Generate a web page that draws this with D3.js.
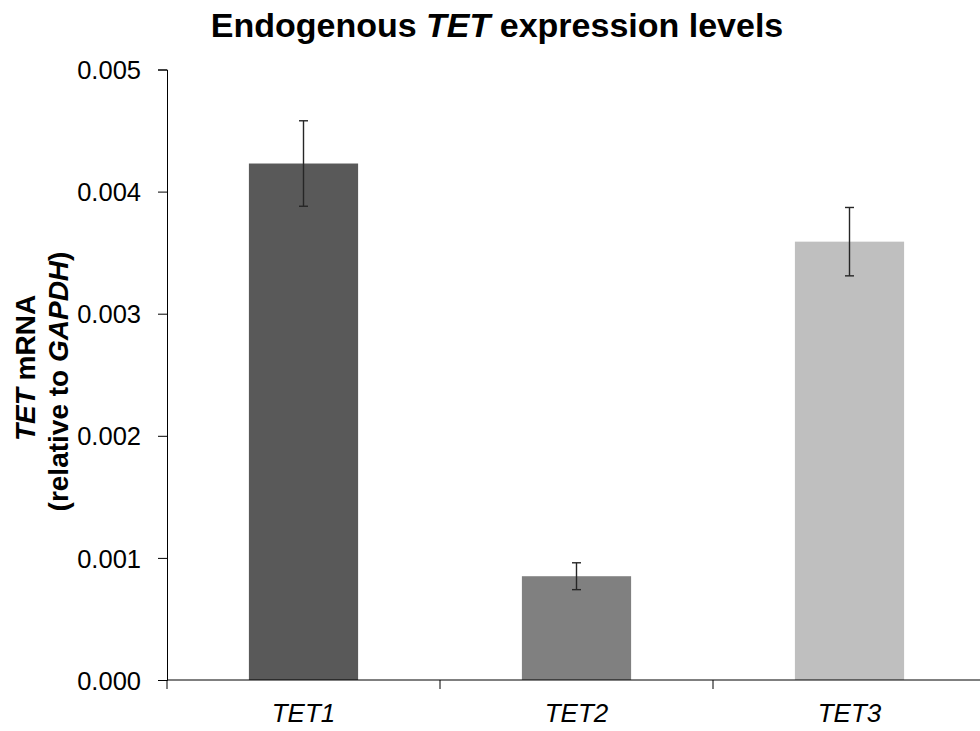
<!DOCTYPE html>
<html><head><meta charset="utf-8">
<script src="https://cdn.jsdelivr.net/npm/d3@7"></script>
<style>body{margin:0;background:#fff}svg{display:block}text{font-family:"Liberation Sans",Arial,sans-serif;fill:#000}</style>
</head><body>
<svg id="chart" width="980" height="731"></svg>
<script>
const categories = ["TET1","TET2","TET3"];
const values = [0.00423, 0.00085, 0.00359];
const errors = [0.00035, 0.00011, 0.00028];
const colors = ["#595959","#808080","#bfbfbf"];
const yTicks = [0, 0.001, 0.002, 0.003, 0.004, 0.005];

const svg = d3.select("#chart");
const x0 = 167, x1 = 986, yTop = 69.5, yBot = 680;
const x = d3.scaleBand().domain(categories).range([x0, x1]).paddingInner(0.6).paddingOuter(0.3);
const y = d3.scaleLinear().domain([0, 0.005]).range([yBot, yTop]);

// bars
svg.selectAll("rect.bar").data(categories).enter().append("rect")
  .attr("x", d => x(d)).attr("width", x.bandwidth())
  .attr("y", (d,i) => y(values[i])).attr("height", (d,i) => yBot - y(values[i]))
  .attr("fill", (d,i) => colors[i]);

// error bars
const eb = svg.append("g").attr("stroke","#262626").attr("stroke-width",1.4);
categories.forEach((c,i) => {
  const cx = x(c) + x.bandwidth()/2;
  eb.append("line").attr("x1",cx).attr("x2",cx).attr("y1",y(values[i]+errors[i])).attr("y2",y(values[i]-errors[i]));
  [values[i]+errors[i], values[i]-errors[i]].forEach(v => {
    eb.append("line").attr("x1",cx-4.5).attr("x2",cx+4.5).attr("y1",y(v)).attr("y2",y(v));
  });
});

// y axis
const yAxis = d3.axisLeft(y).tickValues(yTicks).tickFormat(d3.format(".3f")).tickSizeOuter(0).tickSize(9).tickPadding(17);
const gy = svg.append("g").attr("transform",`translate(${x0},0)`).call(yAxis);
gy.selectAll("text").style("font-size","25.5px").attr("dy","0.36em");
gy.selectAll("line,path").attr("stroke","#000");

// x axis
const xb = d3.scaleLinear().domain([0,3]).range([x0, x1]);
const gx = svg.append("g").attr("transform",`translate(0,${yBot})`);
gx.append("line").attr("x1",x0).attr("x2",980).attr("stroke","#000");
gx.selectAll("line.t").data([0,1,2,3]).enter().append("line")
  .attr("x1",d=>xb(d)).attr("x2",d=>xb(d)).attr("y1",0).attr("y2",9).attr("stroke","#000");
gx.selectAll("text").data(categories).enter().append("text")
  .attr("x", d => x(d)+x.bandwidth()/2).attr("y", 42)
  .attr("text-anchor","middle").style("font-size","26px").style("font-style","italic")
  .text(d => d);

// title
const t = svg.append("text").attr("x",497).attr("y",37).attr("text-anchor","middle")
  .style("font-size","34px").style("font-weight","bold");
t.append("tspan").text("Endogenous ");
t.append("tspan").style("font-style","italic").text("TET");
t.append("tspan").text(" expression levels");

// y title
const yt = svg.append("g").attr("transform","rotate(-90)");
const l1 = yt.append("text").attr("x",-368).attr("y",35).attr("text-anchor","middle").style("font-size","28px").style("font-weight","bold");
l1.append("tspan").style("font-style","italic").text("TET");
l1.append("tspan").text(" mRNA");
const l2 = yt.append("text").attr("x",-381.5).attr("y",68).attr("text-anchor","middle").style("font-size","28px").style("font-weight","bold");
l2.append("tspan").text("(relative to ");
l2.append("tspan").style("font-style","italic").text("GAPDH");
l2.append("tspan").text(")");
</script>
</body></html>
